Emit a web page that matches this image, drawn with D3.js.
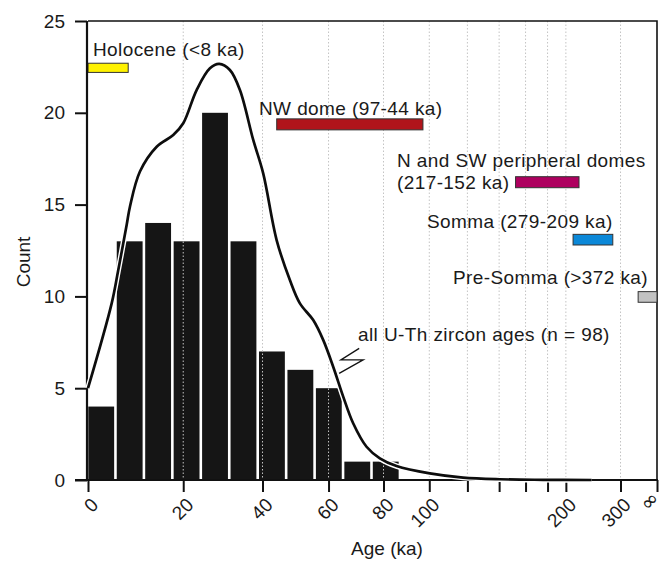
<!DOCTYPE html>
<html><head><meta charset="utf-8">
<script src="https://cdn.jsdelivr.net/npm/d3@7"></script>
<style>body{margin:0;background:#fff}svg{display:block}</style>
</head><body><svg id="c" width="663" height="562"></svg>
<script>
// 230Th decay constant (1/ka); axis is linear in (230Th/238U) activity ratio = 1 - exp(-λ·age)
const LAMBDA = Math.LN2 / 75.69;

// x-axis ticks (ages in ka) and their labels
const tickAges = [0, 20, 40, 60, 80, 100, 120, 140, 160, 180, 200, 300, Infinity];
const tickLabels = ["0", "20", "40", "60", "80", "100", "", "", "", "", "200", "300", "∞"];
const gridAges = [20, 40, 60, 80, 100, 120, 140, 160, 180, 200, 300];
const yTicks = [0, 5, 10, 15, 20, 25];

// histogram bins (activity ratio) and counts
const binStart = [0, 0.05, 0.10, 0.15, 0.20, 0.25, 0.30, 0.35, 0.40, 0.45, 0.50];
const binWidth = 0.05;
const counts = [4, 13, 14, 13, 20, 13, 7, 6, 5, 1, 1];

// density curve (activity ratio, count-scaled)
const curveRatio = [0, 0.0416, 0.0532, 0.068, 0.0738, 0.0913, 0.1207, 0.1498, 0.1674, 0.1909, 0.2143, 0.2306, 0.2494, 0.267, 0.2904, 0.3079, 0.3315, 0.3548, 0.3724, 0.3958, 0.4133, 0.4309, 0.4485, 0.466, 0.4895, 0.5129, 0.5422, 0.6007, 0.6592, 0.7237, 0.80, 0.885];
const curveCount = [5.0, 9.62, 11.44, 13.9, 14.9, 16.8, 18.15, 18.79, 19.43, 21.24, 22.42, 22.66, 22.33, 21.24, 18.52, 16.7, 13.07, 10.89, 9.62, 8.71, 7.63, 6.17, 4.54, 3.09, 1.81, 1.18, 0.76, 0.36, 0.13, 0.04, 0.01, 0.0];

// eruptive periods (ages in ka; bar vertical extent in count units)
const periodLines = [["Holocene (<8 ka)"], ["NW dome (97-44 ka)"], ["N and SW peripheral domes", "(217-152 ka)"], ["Somma (279-209 ka)"], ["Pre-Somma (>372 ka)"]];
const periodYoung = [0, 44, 152, 209, 372];
const periodOld = [8, 97, 217, 279, Infinity];
const periodLow = [22.2, 19.07, 15.92, 12.8, 9.68];
const periodHigh = [22.7, 19.67, 16.52, 13.38, 10.26];
const periodColors = ["#fff200", "#b0141b", "#ae005f", "#0b88d8", "#c2c2c2"];

// annotation
const noteText = "all U-Th zircon ages (n = 98)";
const leaderRatio = [0.4766, 0.4444, 0.4836, 0.4414];
const leaderCount = [7.17, 6.54, 6.54, 5.81];

// ---- layout ----
const W = 663, H = 562;
const L = 88, R = 657, T = 21, B = 480;
const labelPos = [[93, 56], [259, 115], [397, 166.7], [427, 228.3], [453, 284]];
const notePos = [358, 341];
const FONT = "'Liberation Sans', Arial, Helvetica, sans-serif";

const svg = d3.select("#c");
const ratio = a => (a === Infinity ? 1 : 1 - Math.exp(-LAMBDA * a));
const x = d3.scaleLinear().domain([0, 1]).range([L, R]);
const y = d3.scaleLinear().domain([0, 25]).range([B, T]);

// bars
svg.append("g").selectAll("rect").data(counts).join("rect")
  .attr("x", (d, i) => x(binStart[i]) + 0.3)
  .attr("width", (d, i) => x(binStart[i] + binWidth) - x(binStart[i]) - 2.6)
  .attr("y", d => y(d))
  .attr("height", d => y(0) - y(d))
  .attr("fill", "#151515");

// grid
svg.append("g").selectAll("line").data(gridAges).join("line")
  .attr("x1", d => x(ratio(d))).attr("x2", d => x(ratio(d)))
  .attr("y1", T).attr("y2", B)
  .attr("stroke", "#c4c4c4").attr("stroke-width", 1).attr("stroke-dasharray", "1.5,2");

// frame (top, right)
svg.append("path").attr("d", `M${L},${T}H${R}V${B}`)
  .attr("fill", "none").attr("stroke", "#111").attr("stroke-width", 1.6);

// period bars
svg.append("g").selectAll("rect").data(periodYoung).join("rect")
  .attr("x", (d, i) => x(ratio(d)))
  .attr("width", (d, i) => x(ratio(periodOld[i])) - x(ratio(d)))
  .attr("y", (d, i) => y(periodHigh[i]))
  .attr("height", (d, i) => y(periodLow[i]) - y(periodHigh[i]))
  .attr("fill", (d, i) => periodColors[i])
  .attr("stroke", "#333").attr("stroke-width", 1);

// period labels
const pl = svg.append("g").attr("font-family", FONT).attr("font-size", 19).attr("fill", "#1a1a1a").attr("letter-spacing", "0.4px");
periodLines.forEach((lines, i) => {
  const t = pl.append("text").attr("x", labelPos[i][0]).attr("y", labelPos[i][1]);
  lines.forEach((s, j) => t.append("tspan").attr("x", labelPos[i][0]).attr("dy", j ? 22.3 : 0).text(s));
});
pl.append("text").attr("x", notePos[0]).attr("y", notePos[1]).text(noteText);

// density curve
const line = d3.line().x(d => x(d[0])).y(d => y(d[1])).curve(d3.curveCatmullRom.alpha(0.5));
const pts = curveRatio.map((r, i) => [r, curveCount[i]]);

// axes
const isInf = i => tickAges[i] === Infinity;
const xAxis = d3.axisBottom(x).tickValues(tickAges.map(ratio)).tickSize(12)
  .tickFormat((d, i) => tickLabels[i]);
const gx = svg.append("g").attr("transform", `translate(0,${B})`).call(xAxis);
gx.select(".domain").attr("d", `M75,0H${R + 1}`).attr("stroke", "#111").attr("stroke-width", 2.2);
gx.selectAll(".tick line").attr("stroke", "#111").attr("stroke-width", 2);
gx.selectAll(".tick text")
  .attr("font-family", (d, i) => isInf(i) ? "'DejaVu Sans', sans-serif" : FONT)
  .attr("font-size", (d, i) => isInf(i) ? 21 : 19).attr("fill", "#1a1a1a")
  .attr("text-anchor", (d, i) => isInf(i) ? "middle" : "end")
  .attr("dy", null).attr("x", 0).attr("y", 0)
  .attr("transform", (d, i) => isInf(i) ? "translate(-3,26) rotate(-45)" : "translate(11,26) rotate(-45)");

const yAxis = d3.axisLeft(y).tickValues(yTicks).tickSize(12).tickPadding(10);
const gy = svg.append("g").attr("transform", `translate(${L - 1},0)`).call(yAxis);
gy.select(".domain").attr("d", `M0,${T}V${B}`).attr("stroke", "#111").attr("stroke-width", 2.2);
gy.selectAll(".tick line").attr("stroke", "#111").attr("stroke-width", 2);
gy.selectAll(".tick text").attr("font-family", FONT).attr("font-size", 19).attr("fill", "#1a1a1a");

svg.append("path").datum(pts).attr("d", line).attr("fill", "none")
  .attr("stroke", "#fff").attr("stroke-width", 5.5).attr("stroke-linejoin", "round");
svg.append("path").datum(pts).attr("d", line).attr("fill", "none")
  .attr("stroke", "#0d0d0d").attr("stroke-width", 2.7).attr("stroke-linejoin", "round");

// leader squiggle
svg.append("path")
  .attr("d", d3.line()(leaderRatio.map((r, i) => [x(r), y(leaderCount[i])])))
  .attr("fill", "none").attr("stroke", "#111").attr("stroke-width", 1.3);

// axis titles
svg.append("text").attr("x", 387).attr("y", 555).attr("text-anchor", "middle")
  .attr("font-family", FONT).attr("font-size", 19).attr("fill", "#1a1a1a").text("Age (ka)");
svg.append("text").attr("transform", "translate(30,262) rotate(-90)").attr("text-anchor", "middle")
  .attr("font-family", FONT).attr("font-size", 19).attr("fill", "#1a1a1a").text("Count");
</script></body></html>
